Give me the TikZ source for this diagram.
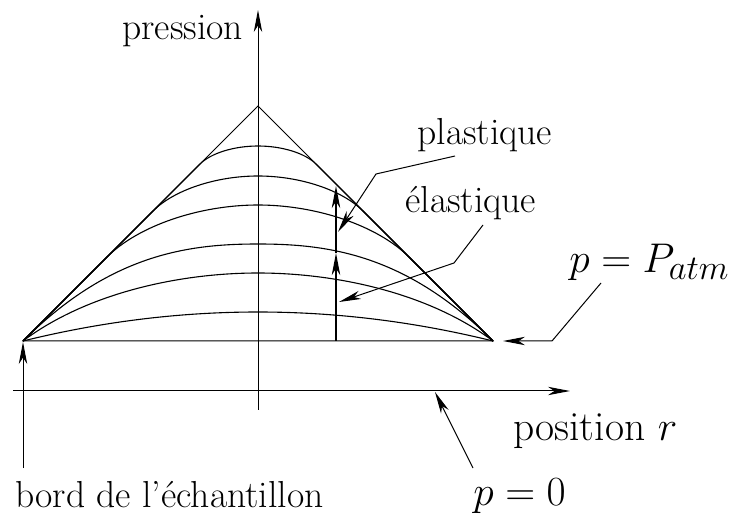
\documentclass[tikz,border=0pt]{standalone}
\usetikzlibrary{arrows.meta}
\begin{document}
\begin{tikzpicture}[x=0.5pt,y=-0.5pt,
  thinline/.style={line width=0.5pt},
  curve/.style={line width=0.55pt},
  tip/.style={-{Stealth[length=11pt,width=4.2pt,inset=3.2pt]}},
  lbl/.style={anchor=base west,inner sep=0pt,font=\fontsize{18.8}{22}\selectfont},
  biglbl/.style={anchor=base west,inner sep=0pt,font=\huge}]
\useasboundingbox (0,0) rectangle (735,519);
% key points
\coordinate (L) at (23,341);
\coordinate (R) at (493,341);
\coordinate (A) at (258,106);
\coordinate (xs) at (13,391);
\coordinate (xe) at (570,391);
\coordinate (ys) at (258,410);
\coordinate (ye) at (258,10);
% axes
\draw[thinline,tip] (xs) -- (xe);
\draw[thinline,tip] (ys) -- (ye);
% triangle and base
\draw[thinline] (L) -- (A) -- (R) -- cycle;
% family of profiles
\draw[curve] (L) -- (200,164) .. controls (210.8,153.2) and (234,146) .. (258,146)
  .. controls (282,146) and (305.2,153.2) .. (316,164) -- (R);
\draw[curve] (L) -- (153,211) .. controls (174,190) and (216,176) .. (258,176)
  .. controls (300,176) and (342,190) .. (363,211) -- (R);
\draw[curve] (L) -- (107,257) .. controls (138,226) and (199,205) .. (258,205)
  .. controls (317,205) and (378,226) .. (409,257) -- (R);
\draw[curve] (L) .. controls (110.3,253.7) and (189,244) .. (258,244)
  .. controls (327,244) and (405.7,253.7) .. (R);
\draw[curve] (L) .. controls (86.5,293.4) and (178.6,273) .. (258,273)
  .. controls (337.4,273) and (429.5,293.4) .. (R);
\draw[curve] (L) .. controls (101.3,321.7) and (179.7,312) .. (258,312)
  .. controls (336.3,312) and (414.7,321.7) .. (R);
% thick vertical with arrows
\coordinate (t0) at (336,341);
\coordinate (t1) at (336,253);
\coordinate (t2) at (336,186);
\draw[line width=1.2pt,tip] (t0) -- (t1);
\draw[line width=1.2pt,tip] (t1) -- (t2);
% bord arrow
\coordinate (b0) at (23,468);
\draw[thinline,tip] (b0) -- (23,342);
% labels
\node[lbl] (pres) at (122,40) {pression};
\node[lbl] (plas) at (417,145) {plastique};
\node[lbl] (elas) at (405,213) {élastique};
\node[anchor=base west,inner sep=0pt,font=\fontsize{22.8}{27}\selectfont] (patm) at (569,273) {$p=P_{atm}$};
\node[biglbl] (posr) at (513,440) {position $r$};
\node[biglbl] (pzero) at (473,505) {$p=0$};
\node[lbl] (bord) at (15,507) {bord de l'échantillon};
% leader lines
\coordinate (pl0) at (455,156);
\coordinate (pl1) at (376,174);
\coordinate (pl2) at (338,232);
\draw[thinline,tip] (pl0) -- (pl1) -- (pl2);
\coordinate (el0) at (483,225);
\coordinate (el1) at (454,263);
\coordinate (el2) at (339,302);
\draw[thinline,tip] (el0) -- (el1) -- (el2);
\coordinate (pa0) at (601,283);
\coordinate (pa1) at (552,341);
\coordinate (pa2) at (503,341);
\draw[thinline,tip] (pa0) -- (pa1) -- (pa2);
\coordinate (pz0) at (473,468);
\coordinate (pz1) at (435,392);
\draw[thinline,tip] (pz0) -- (pz1);
\end{tikzpicture}
\end{document}
